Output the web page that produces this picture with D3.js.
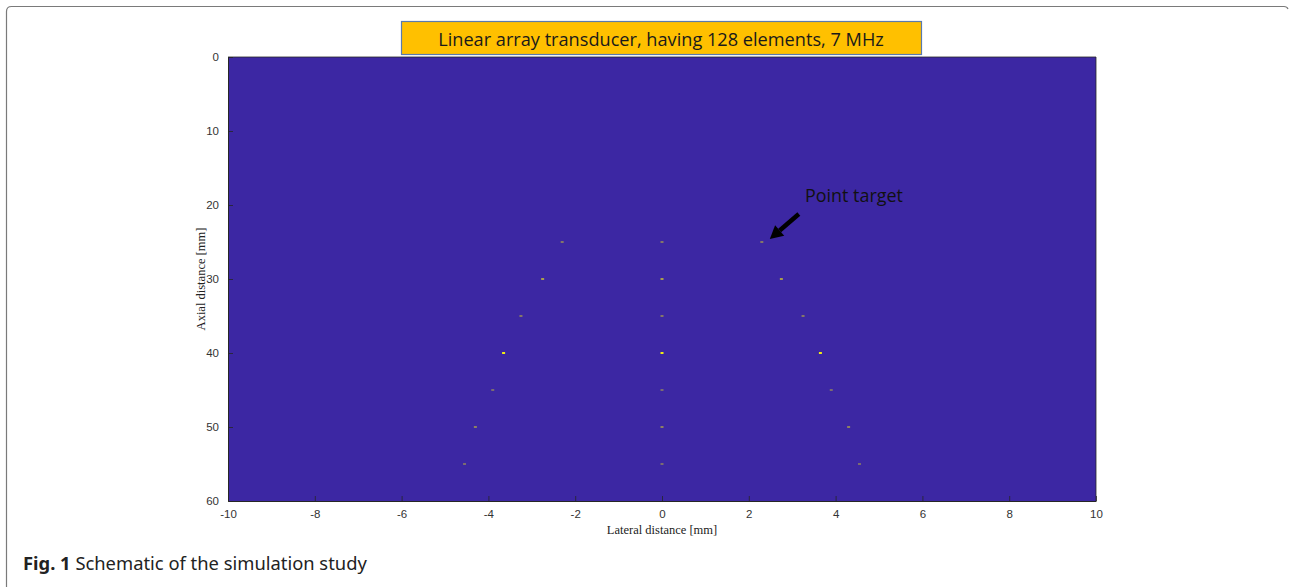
<!DOCTYPE html>
<html>
<head>
<meta charset="utf-8">
<script src="https://cdn.jsdelivr.net/npm/d3@7/dist/d3.min.js"></script>
<style>
  html, body { margin: 0; padding: 0; background: #fff; }
  svg { display: block; }
</style>
</head>
<body>
<svg id="fig" width="1290" height="587"></svg>
<script>
// Point-target phantom: axial depths (mm) and lateral offsets (mm) of the outer targets
const depths = [25, 30, 35, 40, 45, 50, 55];
const lateralOffsets = [2.3, 2.75, 3.25, 3.65, 3.9, 4.3, 4.55];
// Relative brightness of the imaged targets at each depth
const brightness = [0.4, 0.6, 0.4, 1.0, 0.35, 0.45, 0.35];

const xTicks = [-10, -8, -6, -4, -2, 0, 2, 4, 6, 8, 10];
const yTicks = [0, 10, 20, 30, 40, 50, 60];

const titleText = "Linear array transducer, having 128 elements, 7 MHz";
const annotationText = "Point target";
const annotatedTarget = { x: 2.3, z: 25 };

const svg = d3.select("#fig");

// Figure frame with rounded top-left corner
svg.append("path")
  .attr("d", "M6.5,587 L6.5,11.5 Q6.5,6.5 11.5,6.5 L1284,6.5 Q1287,6.5 1288,9")
  .attr("fill", "none")
  .attr("stroke", "#7a7a7a")
  .attr("stroke-width", 1.2);

const plot = { left: 228, right: 1096, top: 57, bottom: 501 };

const x = d3.scaleLinear().domain([-10, 10]).range([plot.left, plot.right]);
const y = d3.scaleLinear().domain([0, 60]).range([plot.top, plot.bottom]);

// Image background (lowest colormap value)
const bg = "#3C27A3";
svg.append("rect")
  .attr("x", x(-10)).attr("y", y(0))
  .attr("width", x(10) - x(-10)).attr("height", y(60) - y(0))
  .attr("fill", bg);

const cmap = d3.interpolateRgb(bg, "#F0EC14");

// Build target list: centre column plus symmetric pair per depth
const targets = [];
depths.forEach((d, i) => {
  targets.push({ x: 0, z: d, v: brightness[i] });
  targets.push({ x: -lateralOffsets[i], z: d, v: brightness[i] });
  targets.push({ x: lateralOffsets[i], z: d, v: brightness[i] });
});

svg.append("g").selectAll("rect")
  .data(targets)
  .join("rect")
  .attr("x", d => x(d.x) - 1.5)
  .attr("y", d => y(d.z) - 1)
  .attr("width", 3)
  .attr("height", 2)
  .attr("fill", d => cmap(d.v));

// Axes with inward ticks; plain hyphen-minus labels
const axisColor = "#262626";
const fmt = d => String(d);
const xAxis = svg.append("g")
  .attr("transform", `translate(0,${plot.bottom})`)
  .call(d3.axisBottom(x).tickValues(xTicks).tickFormat(fmt).tickSizeInner(-5).tickSizeOuter(0).tickPadding(9));
const yAxis = svg.append("g")
  .attr("transform", `translate(${plot.left},0)`)
  .call(d3.axisLeft(y).tickValues(yTicks).tickFormat(fmt).tickSizeInner(-5).tickSizeOuter(0).tickPadding(9));

[xAxis, yAxis].forEach(g => {
  g.select(".domain").attr("stroke", axisColor).attr("stroke-width", 1);
  g.selectAll(".tick line").attr("stroke", axisColor).attr("stroke-width", 0.8);
  g.selectAll(".tick text")
    .attr("fill", "#333")
    .style("font-family", "'Liberation Sans', Arial, sans-serif")
    .style("font-size", "11.5px");
});

// Right and top box edges
svg.append("line")
  .attr("x1", plot.right).attr("x2", plot.right)
  .attr("y1", plot.top).attr("y2", plot.bottom)
  .attr("stroke", axisColor).attr("stroke-width", 0.8);
svg.append("line")
  .attr("x1", plot.left).attr("x2", plot.right)
  .attr("y1", plot.top).attr("y2", plot.top)
  .attr("stroke", axisColor).attr("stroke-width", 0.8);

// Axis titles
svg.append("text")
  .attr("x", (plot.left + plot.right) / 2)
  .attr("y", 534)
  .attr("text-anchor", "middle")
  .style("font-family", "'Liberation Serif', 'Times New Roman', serif")
  .style("font-size", "12.5px")
  .attr("fill", "#222")
  .text("Lateral distance [mm]");

svg.append("text")
  .attr("transform", `translate(205,${(plot.top + plot.bottom) / 2}) rotate(-90)`)
  .attr("text-anchor", "middle")
  .style("font-family", "'Liberation Serif', 'Times New Roman', serif")
  .style("font-size", "12.5px")
  .attr("fill", "#222")
  .text("Axial distance [mm]");

// Helper: fit text to a target width by adjusting font size
function fitText(sel, width) {
  const w = sel.node().getComputedTextLength();
  const fs = parseFloat(sel.style("font-size"));
  sel.style("font-size", (fs * width / w) + "px");
}

// Title box
svg.append("rect")
  .attr("x", 401.5).attr("y", 21.5)
  .attr("width", 520).attr("height", 33)
  .attr("fill", "#FFC000")
  .attr("stroke", "#5A7AAE")
  .attr("stroke-width", 1.2);

const title = svg.append("text")
  .attr("x", 661)
  .attr("y", 46)
  .attr("text-anchor", "middle")
  .style("font-family", "'Open Sans', 'Noto Sans', sans-serif")
  .style("font-size", "16px")
  .attr("fill", "#1a1a1a")
  .text(titleText);
fitText(title, 446);

// Annotation arrow and label
const tip = { x: x(annotatedTarget.x) + 8, y: y(annotatedTarget.z) - 3 };
const tail = { x: tip.x + 29, y: tip.y - 25 };
const ang = Math.atan2(tip.y - tail.y, tip.x - tail.x);
const headLen = 13, headW = 7;
const base = { x: tip.x - headLen * Math.cos(ang), y: tip.y - headLen * Math.sin(ang) };
svg.append("line")
  .attr("x1", tail.x).attr("y1", tail.y)
  .attr("x2", base.x).attr("y2", base.y)
  .attr("stroke", "#000").attr("stroke-width", 4.5);
svg.append("polygon")
  .attr("points", [
    [tip.x, tip.y],
    [base.x + headW * Math.sin(ang), base.y - headW * Math.cos(ang)],
    [base.x - headW * Math.sin(ang), base.y + headW * Math.cos(ang)]
  ].map(p => p.join(",")).join(" "))
  .attr("fill", "#000");

const ann = svg.append("text")
  .attr("x", 805)
  .attr("y", 202)
  .style("font-family", "'Open Sans', 'Noto Sans', sans-serif")
  .style("font-size", "16px")
  .attr("fill", "#111")
  .text(annotationText);
fitText(ann, 98);

// Caption
const cap = svg.append("text")
  .attr("x", 23)
  .attr("y", 570)
  .style("font-family", "'Noto Sans', 'Open Sans', sans-serif")
  .style("font-size", "18px")
  .attr("fill", "#222");
cap.append("tspan").style("font-weight", "bold").text("Fig. 1");
cap.append("tspan").text(" Schematic of the simulation study");
fitText(cap, 344);
</script>
</body>
</html>
